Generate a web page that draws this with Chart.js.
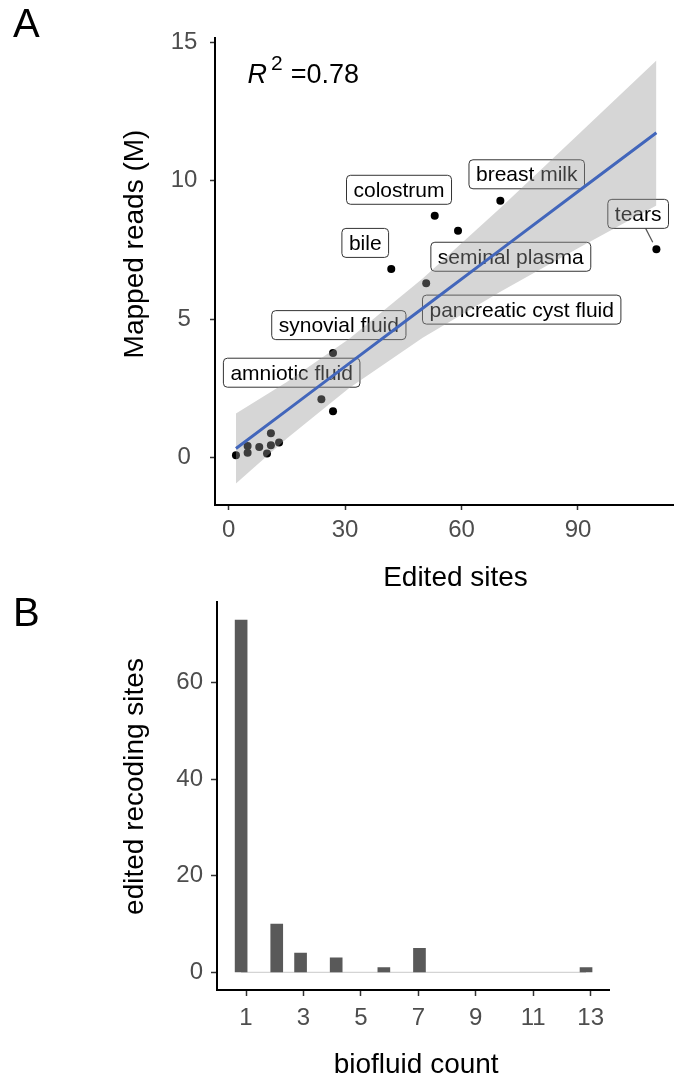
<!DOCTYPE html>
<html lang="en">
<head>
<meta charset="UTF-8" />
<title>Edited sites vs mapped reads</title>
<script src="https://cdn.jsdelivr.net/npm/chart.js"></script>
<style>
  html, body { margin: 0; padding: 0; background: #fff; overflow: hidden; }
  #wrap { position: relative; width: 674px; height: 1082px; overflow: hidden; }
  #chartA { position: absolute; left: 0; top: 0; }
  #chartB { position: absolute; left: 0; top: 580px; }
</style>
</head>
<body>
<div id="wrap">
  <canvas id="chartA" width="700" height="600"></canvas>
  <canvas id="chartB" width="674" height="502"></canvas>
</div>

<script>
const FONT = '"Liberation Sans", Arial, Helvetica, sans-serif';

// ---- Panel A: edited sites vs mapped reads ----
const editedSites = [1.9, 4.9, 4.9, 7.9, 9.9, 10.9, 10.9, 13.0, 23.9, 26.9, 26.9, 41.9, 50.9, 53.1, 59.1, 70.0, 110.2];
const mappedReads = [0.08, 0.41, 0.17, 0.38, 0.14, 0.87, 0.44, 0.54, 2.10, 1.67, 3.77, 6.81, 6.29, 8.73, 8.19, 9.27, 7.52];
const fluidNames  = ['', '', '', '', '', '', '', '', 'amniotic fluid', '', 'synovial fluid', 'bile',
                     'pancreatic cyst fluid', 'colostrum', 'seminal plasma', 'breast milk', 'tears'];
// where the repelled labels ended up (data units, box centre)
const labelSites  = [0, 0, 0, 0, 0, 0, 0, 0, 16.25, 0, 28.4, 35.2, 75.5, 43.9, 72.7, 76.8, 105.5];
const labelReads  = [0, 0, 0, 0, 0, 0, 0, 0, 3.06, 0, 4.78, 7.75, 5.34, 9.67, 7.25, 10.23, 8.80];

// linear fit and its confidence band
const fitSites  = [1.9, 15, 31, 50, 70, 90, 110.2];
const fitReads  = [0.32, 1.70, 3.39, 5.39, 7.50, 9.61, 11.73];
const bandUpper = [1.59, 2.72, 4.28, 6.46, 9.01, 11.66, 14.34];
const bandLower = [-0.94, 0.68, 2.50, 4.32, 5.99, 7.56, 9.10];

const ticksAX = [0, 30, 60, 90];
const ticksAY = [0, 5, 10, 15];

// ---- Panel B: histogram of biofluid count ----
const binCenters = [0.83, 2.07, 2.9, 4.14, 5.8, 7.04, 12.84];
const siteCounts = [73, 10, 4, 3, 1, 5, 1];
const ticksBX = [1, 3, 5, 7, 9, 11, 13];
const ticksBY = [0, 20, 40, 60];

function roundRect(ctx, x, y, w, h, r) {
  ctx.beginPath();
  ctx.moveTo(x + r, y);
  ctx.arcTo(x + w, y, x + w, y + h, r);
  ctx.arcTo(x + w, y + h, x, y + h, r);
  ctx.arcTo(x, y + h, x, y, r);
  ctx.arcTo(x, y, x + w, y, r);
  ctx.closePath();
}

function vTitle(ctx, text, x, y) {
  ctx.save();
  ctx.translate(x, y);
  ctx.rotate(-Math.PI / 2);
  ctx.textAlign = 'center';
  ctx.textBaseline = 'alphabetic';
  ctx.fillText(text, 0, 0);
  ctx.restore();
}

const annotA = {
  id: 'annotA',
  beforeDatasetsDraw(chart) {
    const { ctx, scales: { x, y } } = chart;
    ctx.save();
    ctx.font = '21px ' + FONT;
    fluidNames.forEach((name, i) => {
      if (!name) return;
      const cx = x.getPixelForValue(labelSites[i]);
      const cy = y.getPixelForValue(labelReads[i]);
      const w = ctx.measureText(name).width + 14, h = 29;
      const px = x.getPixelForValue(editedSites[i]);
      const py = y.getPixelForValue(mappedReads[i]);
      const gx = Math.max(cx - w / 2 - px, 0, px - cx - w / 2);
      const gy = Math.max(cy - h / 2 - py, 0, py - cy - h / 2);
      if (Math.hypot(gx, gy) > 16) {
        const dx = px - cx, dy = py - cy, len = Math.hypot(dx, dy);
        const t = Math.min(Math.abs((w / 2) / dx), Math.abs((h / 2) / dy));
        ctx.beginPath();
        ctx.moveTo(cx + dx * t, cy + dy * t);
        ctx.lineTo(px - dx / len * 8, py - dy / len * 8);
        ctx.strokeStyle = '#555';
        ctx.lineWidth = 1.2;
        ctx.stroke();
      }
      roundRect(ctx, cx - w / 2, cy - h / 2, w, h, 4);
      ctx.fillStyle = '#fff';
      ctx.fill();
      ctx.strokeStyle = '#333';
      ctx.lineWidth = 1;
      ctx.stroke();
      ctx.fillStyle = '#000';
      ctx.textAlign = 'center';
      ctx.textBaseline = 'alphabetic';
      ctx.fillText(name, cx, cy + 7);
    });
    ctx.restore();
  },
  afterDraw(chart) {
    const { ctx, scales: { x, y } } = chart;
    ctx.save();
    ctx.fillStyle = '#000';
    // R^2 annotation
    const rx = x.getPixelForValue(4.9), ry = y.getPixelForValue(13.54);
    ctx.textAlign = 'left';
    ctx.textBaseline = 'alphabetic';
    ctx.font = 'italic 27px ' + FONT;
    ctx.fillText('R', rx, ry);
    const sx = rx + ctx.measureText('R').width + 4;
    ctx.font = '21px ' + FONT;
    ctx.fillText('2', sx, ry - 12.7);
    const ex = sx + ctx.measureText('2').width + 8;
    ctx.font = '27px ' + FONT;
    ctx.fillText('=0.78', ex, ry);
    // axis titles
    ctx.font = '28px ' + FONT;
    ctx.textAlign = 'center';
    ctx.fillText('Edited sites', (chart.chartArea.left + chart.chartArea.right) / 2, 585.7);
    vTitle(ctx, 'Mapped reads (M)', 143.3, 244);
    // panel letter
    ctx.textAlign = 'left';
    ctx.font = '40px ' + FONT;
    ctx.fillText('A', 13, 37.3);
    ctx.restore();
  }
};

const annotB = {
  id: 'annotB',
  afterDraw(chart) {
    const { ctx } = chart;
    ctx.save();
    ctx.fillStyle = '#000';
    ctx.font = '28px ' + FONT;
    ctx.textAlign = 'center';
    ctx.textBaseline = 'alphabetic';
    ctx.fillText('biofluid count', (chart.chartArea.left + chart.chartArea.right) / 2 + 3, 493);
    vTitle(ctx, 'edited recoding sites', 143, 206.5);
    ctx.textAlign = 'left';
    ctx.font = '40px ' + FONT;
    ctx.fillText('B', 13, 46);
    ctx.restore();
  }
};

const tickFont = { family: FONT, size: 24 };

new Chart(document.getElementById('chartA'), {
  type: 'scatter',
  data: {
    datasets: [
      {
        type: 'scatter',
        data: editedSites.map((v, i) => ({ x: v, y: mappedReads[i] })),
        pointRadius: 4,
        pointBackgroundColor: '#000',
        pointBorderWidth: 0,
        order: 3
      },
      {
        type: 'line',
        data: fitSites.map((v, i) => ({ x: v, y: bandUpper[i] })),
        showLine: true,
        borderColor: 'rgba(0,0,0,0)',
        borderWidth: 0,
        pointRadius: 0,
        fill: '+1',
        backgroundColor: 'rgba(153,153,153,0.4)',
        order: 2
      },
      {
        type: 'line',
        data: fitSites.map((v, i) => ({ x: v, y: bandLower[i] })),
        showLine: true,
        borderColor: 'rgba(0,0,0,0)',
        borderWidth: 0,
        pointRadius: 0,
        fill: false,
        order: 2
      },
      {
        type: 'line',
        data: fitSites.map((v, i) => ({ x: v, y: fitReads[i] })),
        showLine: true,
        borderColor: '#4266bb',
        borderWidth: 3,
        pointRadius: 0,
        fill: false,
        order: 1
      }
    ]
  },
  options: {
    responsive: false,
    animation: false,
    events: [],
    layout: { padding: { top: 38.4, right: 3, bottom: 0, left: 0 } },
    plugins: { legend: { display: false }, tooltip: { enabled: false } },
    scales: {
      x: {
        type: 'linear', min: -3.5, max: 120.4,
        afterBuildTicks: s => { s.ticks = ticksAX.map(v => ({ value: v })); },
        afterFit: s => { s.height = 95; s.paddingRight = 0; s.paddingLeft = 0; },
        grid: { drawOnChartArea: false, tickLength: 5, tickColor: '#333', tickWidth: 1.5 },
        border: { color: '#000', width: 2 },
        ticks: { color: '#4d4d4d', font: tickFont, padding: 6, maxRotation: 0, autoSkip: false }
      },
      y: {
        type: 'linear', min: -1.72, max: 15.14,
        afterBuildTicks: s => { s.ticks = ticksAY.map(v => ({ value: v })); },
        afterFit: s => { s.width = 215; },
        grid: { drawOnChartArea: false, tickLength: 5, tickColor: '#333', tickWidth: 1.5 },
        border: { color: '#000', width: 2 },
        ticks: { color: '#4d4d4d', font: tickFont, padding: 12.6, crossAlign: 'center', autoSkip: false }
      }
    }
  },
  plugins: [annotA]
});

new Chart(document.getElementById('chartB'), {
  type: 'bar',
  data: {
    datasets: [
      {
        type: 'line',
        data: [{ x: binCenters[0], y: 0 }, { x: binCenters[binCenters.length - 1], y: 0 }],
        borderColor: '#d4d4d4',
        borderWidth: 1.2,
        pointRadius: 0,
        fill: false,
        order: 2
      },
      {
        type: 'bar',
        data: binCenters.map((v, i) => ({ x: v, y: siteCounts[i] })),
        backgroundColor: '#595959',
        barThickness: 12,
        order: 1
      }
    ]
  },
  options: {
    responsive: false,
    animation: false,
    events: [],
    layout: { padding: { top: 14, right: 64.7, bottom: 0, left: 0 } },
    plugins: { legend: { display: false }, tooltip: { enabled: false } },
    scales: {
      x: {
        type: 'linear', min: -0.01, max: 13.65, offset: false,
        afterBuildTicks: s => { s.ticks = ticksBX.map(v => ({ value: v })); },
        afterFit: s => { s.height = 92; },
        grid: { drawOnChartArea: false, offset: false, tickLength: 6, tickColor: '#333', tickWidth: 1.5 },
        border: { color: '#000', width: 2 },
        ticks: { color: '#4d4d4d', font: tickFont, padding: 8, maxRotation: 0, autoSkip: false }
      },
      y: {
        type: 'linear', min: -3.65, max: 76.65,
        afterBuildTicks: s => { s.ticks = ticksBY.map(v => ({ value: v })); },
        afterFit: s => { s.width = 217; },
        grid: { drawOnChartArea: false, tickLength: 6, tickColor: '#333', tickWidth: 1.5 },
        border: { color: '#000', width: 2 },
        ticks: { color: '#4d4d4d', font: tickFont, padding: 8, autoSkip: false }
      }
    }
  },
  plugins: [annotB]
});
</script>
</body>
</html>
